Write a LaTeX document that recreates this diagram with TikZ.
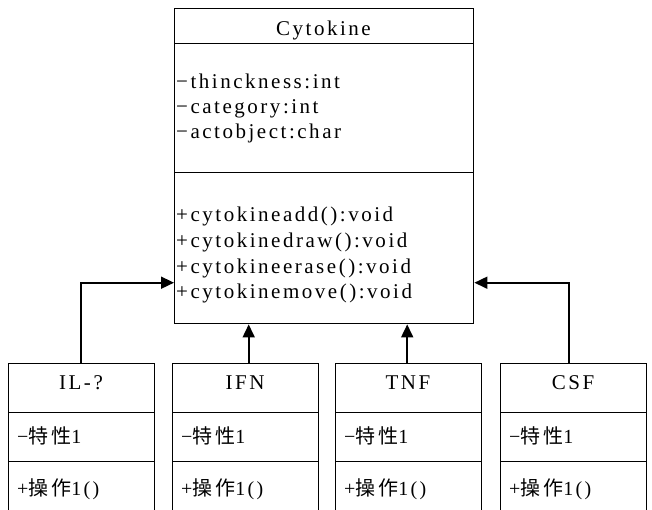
\documentclass[tikz,border=0pt]{standalone}
\usepackage{fontspec}
\setmainfont{Liberation Serif}[LetterSpace=12]
\newfontfamily\cjk{Noto Sans CJK SC}[LetterSpace=14]
\usetikzlibrary{arrows.meta,calc}

\begin{document}
\begin{tikzpicture}[x=1pt,y=-1pt,
  cls/.style={draw, line width=1.4pt, anchor=north west, inner sep=0pt, fill=white},
  txt/.style={anchor=base west, inner sep=0pt, font=\fontsize{21}{21}\selectfont},
  ttl/.style={anchor=base, inner sep=0pt, font=\fontsize{21}{21}\selectfont},
  cjt/.style={anchor=base west, inner sep=0pt, font=\fontsize{20}{20}\selectfont},
  conn/.style={line width=1.7pt, -{Triangle[length=13pt,width=12pt]}}]
\clip (0,0) rectangle (652,509);
\fill[white] (0,0) rectangle (652,509);

% parent class
\node[cls, minimum width=299pt, minimum height=35pt]  (ctitle) at (174,8)   {};
\node[cls, minimum width=299pt, minimum height=129pt] (cattr)  at (174,43)  {};
\node[cls, minimum width=299pt, minimum height=151pt] (cmeth)  at (174,172) {};
\node[ttl] (cname) at (323.5,35) {Cytokine};
\node[txt] (a1) at (176,88)  {−thinckness:int};
\node[txt] (a2) at (176,113) {−category:int};
\node[txt] (a3) at (176,138) {−actobject:char};
\node[txt] (m1) at (176,221) {+cytokineadd():void};
\node[txt] (m2) at (176,247) {+cytokinedraw():void};
\node[txt] (m3) at (176,273) {+cytokineerase():void};
\node[txt] (m4) at (176,298) {+cytokinemove():void};

% subclasses
\foreach \id/\x/\name in {il/8/IL-?, ifn/172/IFN, tnf/335/TNF, csf/500/CSF}{
  \node[cls, minimum width=146pt, minimum height=49pt] (\id t) at (\x,363) {};
  \node[cls, minimum width=146pt, minimum height=49pt] (\id a) at (\x,412) {};
  \node[cls, minimum width=146pt, minimum height=60pt] (\id o) at (\x,461) {};
  \node[ttl] (\id n) at ($(\x,389)+(73,0)$) {\name};
  \node[cjt] (\id p) at ($(\x,443)+(9,0)$) {−{\cjk 特性}1};
  \node[cjt] (\id m) at ($(\x,495)+(9,0)$) {+{\cjk 操作}1()};
}

% generalisation arrows
\draw[conn] ([xshift=-1pt]ilt.north) |- ([yshift=-34.5pt]cmeth.west);
\draw[conn] ([xshift=3pt]ifnt.north) -- ([xshift=3pt]ifnt.north |- cmeth.south);
\draw[conn] ([xshift=-1.5pt]tnft.north) -- ([xshift=-1.5pt]tnft.north |- cmeth.south);
\draw[conn] ([xshift=-5pt]csft.north) |- ([yshift=-34.5pt]cmeth.east);
\end{tikzpicture}
\end{document}
